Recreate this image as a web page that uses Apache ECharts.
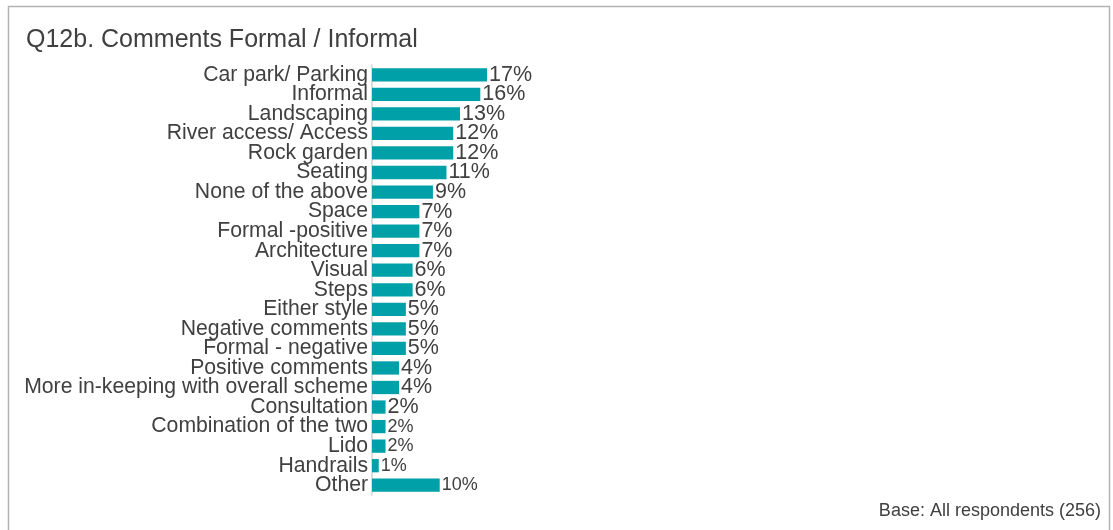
<!DOCTYPE html>
<html style="height: 100%">
<head>
  <meta charset="utf-8">
  <script src="https://cdn.jsdelivr.net/npm/echarts@6/dist/echarts.min.js"></script>
</head>
<body style="height: 100%; margin: 0; background: #fff;">
  <div id="container" style="width: 1113px; height: 530px;"></div>
  <script type="text/javascript">
    // categories, top to bottom
    var categories = [
      'Car park/ Parking', 'Informal', 'Landscaping', 'River access/ Access', 'Rock garden',
      'Seating', 'None of the above', 'Space', 'Formal -positive', 'Architecture',
      'Visual', 'Steps', 'Either style', 'Negative comments', 'Formal - negative',
      'Positive comments', 'More in-keeping with overall scheme', 'Consultation',
      'Combination of the two', 'Lido', 'Handrails', 'Other'
    ];
    // percentages
    var values = [17, 16, 13, 12, 12, 11, 9, 7, 7, 7, 6, 6, 5, 5, 5, 4, 4, 2, 2, 2, 1, 10];
    // the last few labels are drawn smaller in the original
    var smallLabels = ['Combination of the two', 'Lido', 'Handrails', 'Other'];

    var chart = echarts.init(document.getElementById('container'));

    var seriesData = values.map(function (v, i) {
      var small = smallLabels.indexOf(categories[i]) >= 0;
      return { value: v, label: { fontSize: small ? 18 : 21.5 } };
    });

    var option = {
      animation: false,
      graphic: [
        {
          type: 'rect',
          shape: { x: 8.5, y: 6.5, width: 1101, height: 530 },
          style: { fill: 'none', stroke: '#b3b3b3', lineWidth: 1.5 }
        }
      ],
      title: [
        {
          text: 'Q12b. Comments Formal / Informal',
          left: 21, top: 23,
          textStyle: { fontFamily: 'Liberation Sans', fontWeight: 'normal', fontSize: 25, color: '#404040' }
        },
        {
          text: 'Base: All respondents (256)',
          right: 7, top: 497,
          textStyle: { fontFamily: 'Liberation Sans', fontWeight: 'normal', fontSize: 18, color: '#404040' }
        }
      ],
      grid: { left: 372, top: 65, width: 677, height: 430, containLabel: false },
      xAxis: {
        type: 'value', min: 0, max: 100,
        show: false
      },
      yAxis: {
        type: 'category',
        inverse: true,
        data: categories,
        axisLine: { lineStyle: { color: '#d0d0d0', width: 1.5 } },
        axisTick: { show: false },
        axisLabel: {
          interval: 0,
          fontFamily: 'Liberation Sans', fontSize: 21.2, color: '#404040', margin: 4
        }
      },
      series: [
        {
          type: 'bar',
          data: seriesData,
          barCategoryGap: '32%',
          itemStyle: { color: '#00a0a8' },
          label: {
            show: true, position: 'right', distance: 2,
            fontFamily: 'Liberation Sans', color: '#404040',
            formatter: '{c}%'
          }
        }
      ]
    };
    chart.setOption(option);
  </script>
</body>
</html>
